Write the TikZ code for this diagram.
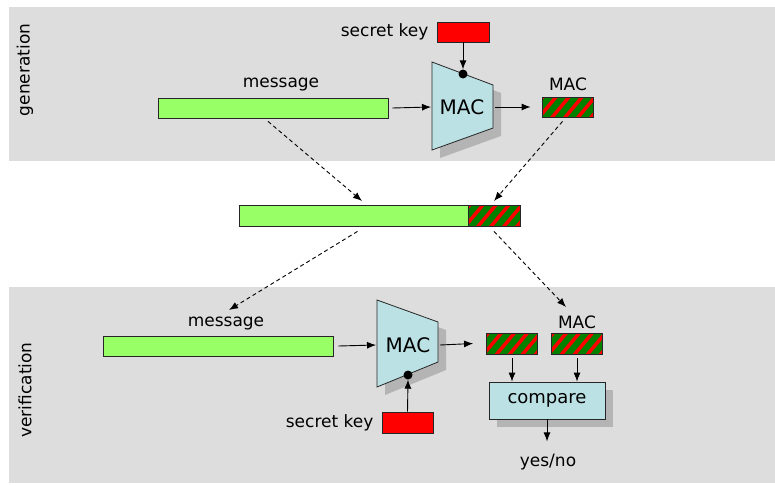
\documentclass[tikz,border=0pt]{standalone}
\usepackage{fontspec}
\setmainfont{DejaVu Sans}
\usetikzlibrary{arrows.meta}
\definecolor{panel}{HTML}{DDDDDD}
\definecolor{msggreen}{HTML}{99FF66}
\definecolor{hgreen}{HTML}{008000}
\definecolor{hred}{HTML}{FF0000}
\definecolor{boxcyan}{HTML}{BBE1E4}
\definecolor{shade}{HTML}{B4B4B4}
\tikzset{
 panelbg/.style={fill=panel, draw=none},
 msgbar/.style={draw=black!85, line width=0.8pt, fill=msggreen, minimum height=20pt, inner sep=0pt},
 tagbox/.style={draw=black!85, line width=0.8pt, fill=hgreen, minimum width=51pt, minimum height=20pt, inner sep=0pt,
   path picture={\foreach \k in {-2,...,5}{\draw[hred,line width=3.5pt] ([xshift=\k*13pt]path picture bounding box.south west) ++(-6pt,-4pt) -- ++(30pt,36pt);}}},
 keybox/.style={draw=black!85, line width=0.8pt, fill=hred, minimum width=52pt, minimum height=20pt, inner sep=0pt},
 lbl/.style={font=\fontsize{17}{20}\selectfont, inner sep=0pt},
 maclbl/.style={font=\fontsize{20}{24}\selectfont, inner sep=0pt},
 arr/.style={-{Latex[length=9pt,width=7pt]}, line width=0.9pt},
 darr/.style={arr, dash pattern=on 4pt off 3pt},
 macshape/.style={fill=boxcyan, draw=black!85, line width=0.8pt},
 shadowfill/.style={fill=shade, draw=none},
 dotnode/.style={circle, fill=black, inner sep=0pt, minimum size=9pt},
}
\begin{document}
\begin{tikzpicture}[x=1pt,y=-1pt]
\useasboundingbox (0,0) rectangle (775,485);
% panels
\fill[panelbg] (9,7) rectangle (775,161);
\fill[panelbg] (9,287) rectangle (775,483);
\node[lbl, rotate=90] (gen) at (25,70) {generation};
\node[lbl, rotate=90] (ver) at (25,390) {verification};

% ---------- generation ----------
\node[msgbar, minimum width=230pt] (msg1) at (273,108) {};
\node[lbl] (msg1l) at (281,85) {message};
\node[keybox] (key1) at (463,32) {};
\node[lbl, anchor=east] (key1l) at ([xshift=-8pt]key1.west) {secret key};
\fill[shadowfill] (440,70) -- (501,93) -- (501,136) -- (440,158) -- cycle;
\draw[macshape] (432,62) -- (493,85) -- (493,128) -- (432,150) -- cycle;
\node[maclbl] (mac1) at (462,107) {MAC};
\coordinate (mac1in) at (431,107);
\coordinate (mac1out) at (495,107);
\node[dotnode] (dot1) at (463,74) {};
\node[tagbox] (tag1) at (567.5,107) {};
\node[lbl] (tag1l) at (568,84) {MAC};
\draw[arr] ([xshift=4pt]msg1.east) -- (mac1in);
\draw[arr] (key1.south) -- (dot1.north);
\draw[arr] (mac1out) -- ([xshift=-11pt]tag1.west);

% ---------- transmitted ----------
\node[msgbar, minimum width=229pt, minimum height=21pt] (mid) at (353.5,215.5) {};
\node[tagbox, minimum width=52pt, minimum height=21pt] (midtag) at (494,215.5) {};
\coordinate (d1) at (362,201);
\coordinate (d2) at (494,201);
\coordinate (d3) at (229,310);
\coordinate (d4) at (566,307);
\draw[darr] ([shift={(-5,3)}]msg1.south) -- (d1);
\draw[darr] ([shift={(-5,4)}]tag1.south) -- (d2);
\draw[darr] ([shift={(4,5)}]mid.south) -- (d3);
\draw[darr] ([shift={(0,5)}]midtag.south) -- (d4);

% ---------- verification ----------
\node[msgbar, minimum width=230pt] (msg2) at (218,346) {};
\node[lbl] (msg2l) at (226,323) {message};
\fill[shadowfill] (385,308) -- (446,330) -- (446,370) -- (385,395) -- cycle;
\draw[macshape] (377,300) -- (438,322) -- (438,362) -- (377,387) -- cycle;
\node[maclbl] (mac2) at (408,345) {MAC};
\coordinate (mac2in) at (376,345);
\coordinate (mac2out) at (440,345);
\node[dotnode] (dot2) at (408,375) {};
\node[keybox, minimum width=51pt, minimum height=21pt] (key2) at (407.5,422.5) {};
\node[lbl, anchor=east] (key2l) at ([xshift=-8pt]key2.west) {secret key};
\node[tagbox, minimum height=21pt] (tag2a) at (512,343.5) {};
\node[tagbox, minimum height=21pt] (tag2b) at (577,343.5) {};
\node[lbl] (tag2l) at (577,322) {MAC};
\fill[shadowfill] (497,390) rectangle (613,427);
\node[draw=black!85, line width=0.8pt, fill=boxcyan, minimum width=116pt, minimum height=37pt, inner sep=0pt, font=\fontsize{18}{22}\selectfont] (cmp) at (547,400.5) {compare};
\node[lbl] (yn) at (548,462) {yes/no};
\draw[arr] ([xshift=5pt]msg2.east) -- (mac2in);
\draw[arr] (key2.north) -- (dot2.south);
\draw[arr] (mac2out) -- ([xshift=-13pt]tag2a.west);
\draw[arr] ([shift={(0,4)}]tag2a.south) -- (tag2a.south |- cmp.north);
\draw[arr] ([shift={(0,4)}]tag2b.south) -- (tag2b.south |- cmp.north);
\draw[arr] (cmp.south) -- ([shift={(0,22)}]cmp.south);
\end{tikzpicture}
\end{document}
